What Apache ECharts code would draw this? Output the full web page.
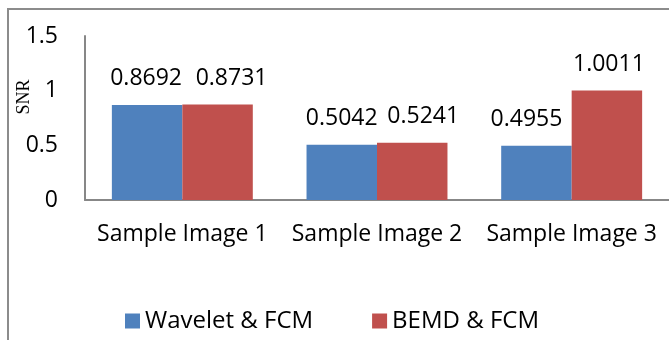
<!DOCTYPE html>
<html>
<head>
<meta charset="utf-8">
<script src="https://cdn.jsdelivr.net/npm/echarts@6/dist/echarts.min.js"></script>
<style>
html,body{margin:0;padding:0;background:#fff;}
#chart{width:669px;height:340px;}
</style>
</head>
<body>
<div id="chart"></div>
<script>
var categories = ['Sample Image 1', 'Sample Image 2', 'Sample Image 3'];
var waveletFCM = [0.8692, 0.5042, 0.4955];
var bemdFCM = [0.8731, 0.5241, 1.0011];
var seriesNames = ['Wavelet & FCM', 'BEMD & FCM'];
var yAxisTitle = 'SNR';

// label nudges (style only): horizontal shift used to keep neighbouring labels apart
var waveletLabelNudge = [-1, 0, -10];
var bemdLabelNudge = [14, 11, 2];

var FONT = '"Open Sans", sans-serif';
var chart = echarts.init(document.getElementById('chart'));
function labelStyle() {
  return {
    show: true,
    position: 'top',
    distance: 15,
    color: '#000',
    fontFamily: FONT,
    fontSize: 23,
    formatter: function (p) { return p.value.toFixed(4); }
  };
}
function buildData(values, nudges) {
  return values.map(function (v, i) {
    return { value: v, label: { offset: [nudges[i], 0] } };
  });
}
chart.setOption({
  animation: false,
  graphic: [
    {
      type: 'rect',
      shape: { x: 8, y: 9, width: 800, height: 500 },
      style: { fill: 'none', stroke: '#8c8c8c', lineWidth: 2 },
      silent: true
    },
    {
      type: 'text',
      x: 24, y: 97,
      rotation: Math.PI / 2,
      style: {
        text: yAxisTitle,
        font: '18px "Liberation Serif", serif',
        fill: '#000',
        align: 'center',
        verticalAlign: 'middle'
      }
    }
  ],
  grid: { left: 85, right: 0, top: 36, bottom: 140 },
  legend: {
    data: seriesNames,
    left: 120,
    top: 304,
    itemWidth: 15,
    itemHeight: 15,
    itemGap: 59,
    icon: 'rect',
    textStyle: { fontFamily: FONT, fontSize: 24, color: '#000' }
  },
  xAxis: {
    type: 'category',
    data: categories,
    axisLine: { lineStyle: { color: '#878787', width: 2 } },
    axisTick: { show: false },
    axisLabel: { color: '#000', fontFamily: FONT, fontSize: 23, margin: 23, interval: 0 }
  },
  yAxis: {
    type: 'value',
    min: 0, max: 1.5, interval: 0.5,
    axisLine: { show: true, lineStyle: { color: '#878787', width: 2 } },
    axisTick: { show: false },
    splitLine: { show: false },
    axisLabel: { color: '#000', fontFamily: FONT, fontSize: 23, margin: 27 }
  },
  series: [
    {
      name: seriesNames[0], type: 'bar', data: buildData(waveletFCM, waveletLabelNudge),
      itemStyle: { color: '#4F81BD' },
      barGap: '0%', barCategoryGap: '27.6%',
      label: labelStyle()
    },
    {
      name: seriesNames[1], type: 'bar', data: buildData(bemdFCM, bemdLabelNudge),
      itemStyle: { color: '#C0504D' },
      barGap: '0%', barCategoryGap: '27.6%',
      label: labelStyle()
    }
  ]
});
</script>
</body>
</html>
